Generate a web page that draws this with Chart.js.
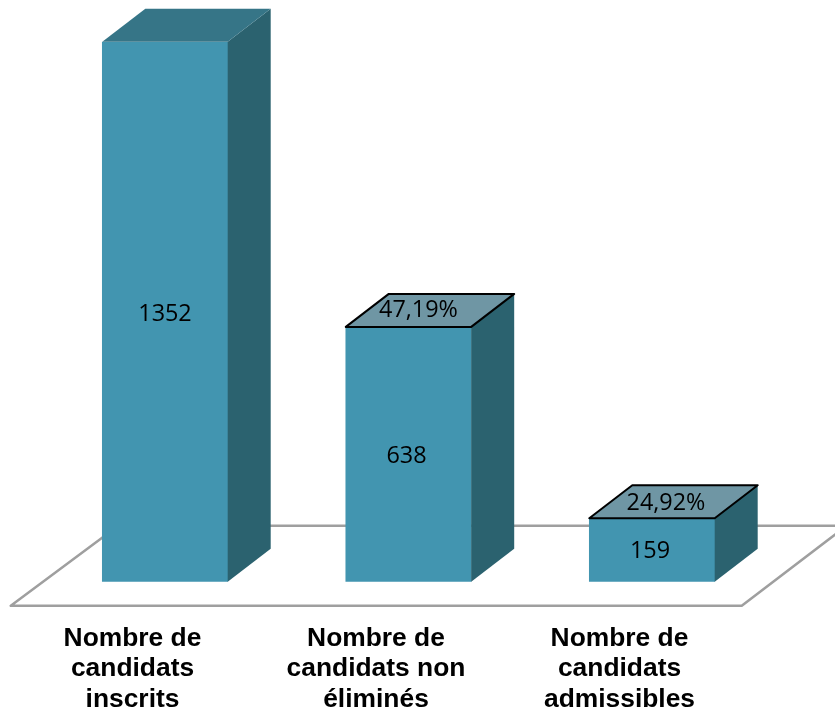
<!DOCTYPE html>
<html>
<head>
<meta charset="utf-8">
<title>Candidats</title>
<script src="https://cdn.jsdelivr.net/npm/chart.js@4"></script>
<style>
  html, body { margin: 0; padding: 0; background: #fff; overflow: hidden; }
  canvas { display: block; }
</style>
</head>
<body>
<canvas id="stage" width="835" height="714"></canvas>
<script>
// data
const categories = [
    ['Nombre de', 'candidats', 'inscrits'],
    ['Nombre de', 'candidats non', 'éliminés'],
    ['Nombre de', 'candidats', 'admissibles']
];
const values = [1352, 638, 159];
const percents = ['', '47,19%', '24,92%'];

// depth of the fake 3D boxes, in px
const DEPTH_X = 43;
const DEPTH_Y = 33;

function poly(ctx, pts, fill, stroke, lineWidth) {
    ctx.beginPath();
    pts.forEach(function (p, i) {
        if (i === 0) ctx.moveTo(p[0], p[1]);
        else ctx.lineTo(p[0], p[1]);
    });
    ctx.closePath();
    if (fill) {
        ctx.fillStyle = fill;
        ctx.fill();
    }
    if (stroke) {
        ctx.strokeStyle = stroke;
        ctx.lineWidth = lineWidth;
        ctx.lineJoin = 'round';
        ctx.stroke();
    }
}

// floor under the boxes
const floorPlugin = {
    id: 'floor',
    beforeDatasetsDraw(chart) {
        const a = chart.chartArea;
        const ctx = chart.ctx;
        const front = a.bottom + 24;
        const back = a.bottom - 56;
        ctx.save();
        poly(ctx, [
            [a.left - 32.5, front],
            [a.right - 32, front],
            [a.right + 73, back],
            [a.left + 75, back]
        ], null, '#9f9f9f', 2.5);
        ctx.restore();
    }
};

// side and top faces, then the labels
const boxPlugin = {
    id: 'box',
    afterDatasetsDraw(chart) {
        const ctx = chart.ctx;
        const bars = chart.getDatasetMeta(0).data;
        // the labels are not quite centred on their faces
        const valShiftX = [0, -2, -2];
        const valShiftY = [3, 2, 1];
        const pctShiftX = [0, 10, 14];
        const pctShiftY = [0, -17, -15];
        ctx.save();
        bars.forEach(function (bar, i) {
            const l = bar.x - bar.width / 2;
            const r = bar.x + bar.width / 2;
            const t = bar.y;
            const b = bar.base;
            poly(ctx, [[r, t], [r + DEPTH_X, t - DEPTH_Y], [r + DEPTH_X, b - DEPTH_Y], [r, b]], '#2b626f');
            if (percents[i]) {
                poly(ctx, [[l, t], [l + DEPTH_X, t - DEPTH_Y], [r + DEPTH_X, t - DEPTH_Y], [r, t]], '#6f96a4', '#000', 2);
            } else {
                poly(ctx, [[l, t], [l + DEPTH_X, t - DEPTH_Y], [r + DEPTH_X, t - DEPTH_Y], [r, t]], '#367587');
            }
        });
        ctx.fillStyle = '#000';
        ctx.font = '23.4px "Open Sans"';
        ctx.textAlign = 'center';
        ctx.textBaseline = 'middle';
        bars.forEach(function (bar, i) {
            ctx.fillText(String(values[i]), bar.x + valShiftX[i], (bar.y + bar.base) / 2 + valShiftY[i]);
            if (percents[i]) {
                ctx.fillText(percents[i], bar.x + pctShiftX[i], bar.y + pctShiftY[i]);
            }
        });
        ctx.restore();
    }
};

new Chart(document.getElementById('stage'), {
    type: 'bar',
    data: {
        labels: categories,
        datasets: [{
            data: values,
            backgroundColor: '#4295b0',
            borderWidth: 0,
            barThickness: 125.4
        }]
    },
    options: {
        responsive: false,
        animation: false,
        layout: { padding: { left: 43.25, right: 61.25, top: 41.7, bottom: 0 } },
        plugins: {
            legend: { display: false },
            title: { display: false },
            tooltip: { enabled: false }
        },
        scales: {
            x: {
                grid: { display: false, drawTicks: false },
                border: { display: false },
                afterFit: function (axis) { axis.height = 132.3; },
                ticks: {
                    color: '#000',
                    autoSkip: false,
                    maxRotation: 0,
                    labelOffset: -32.5,
                    padding: 42.3,
                    font: { family: '"Liberation Sans"', size: 26.4, weight: 'bold', lineHeight: 1.14 }
                }
            },
            y: {
                display: false,
                min: 0,
                max: 1352
            }
        }
    },
    plugins: [floorPlugin, boxPlugin]
});
</script>
</body>
</html>
